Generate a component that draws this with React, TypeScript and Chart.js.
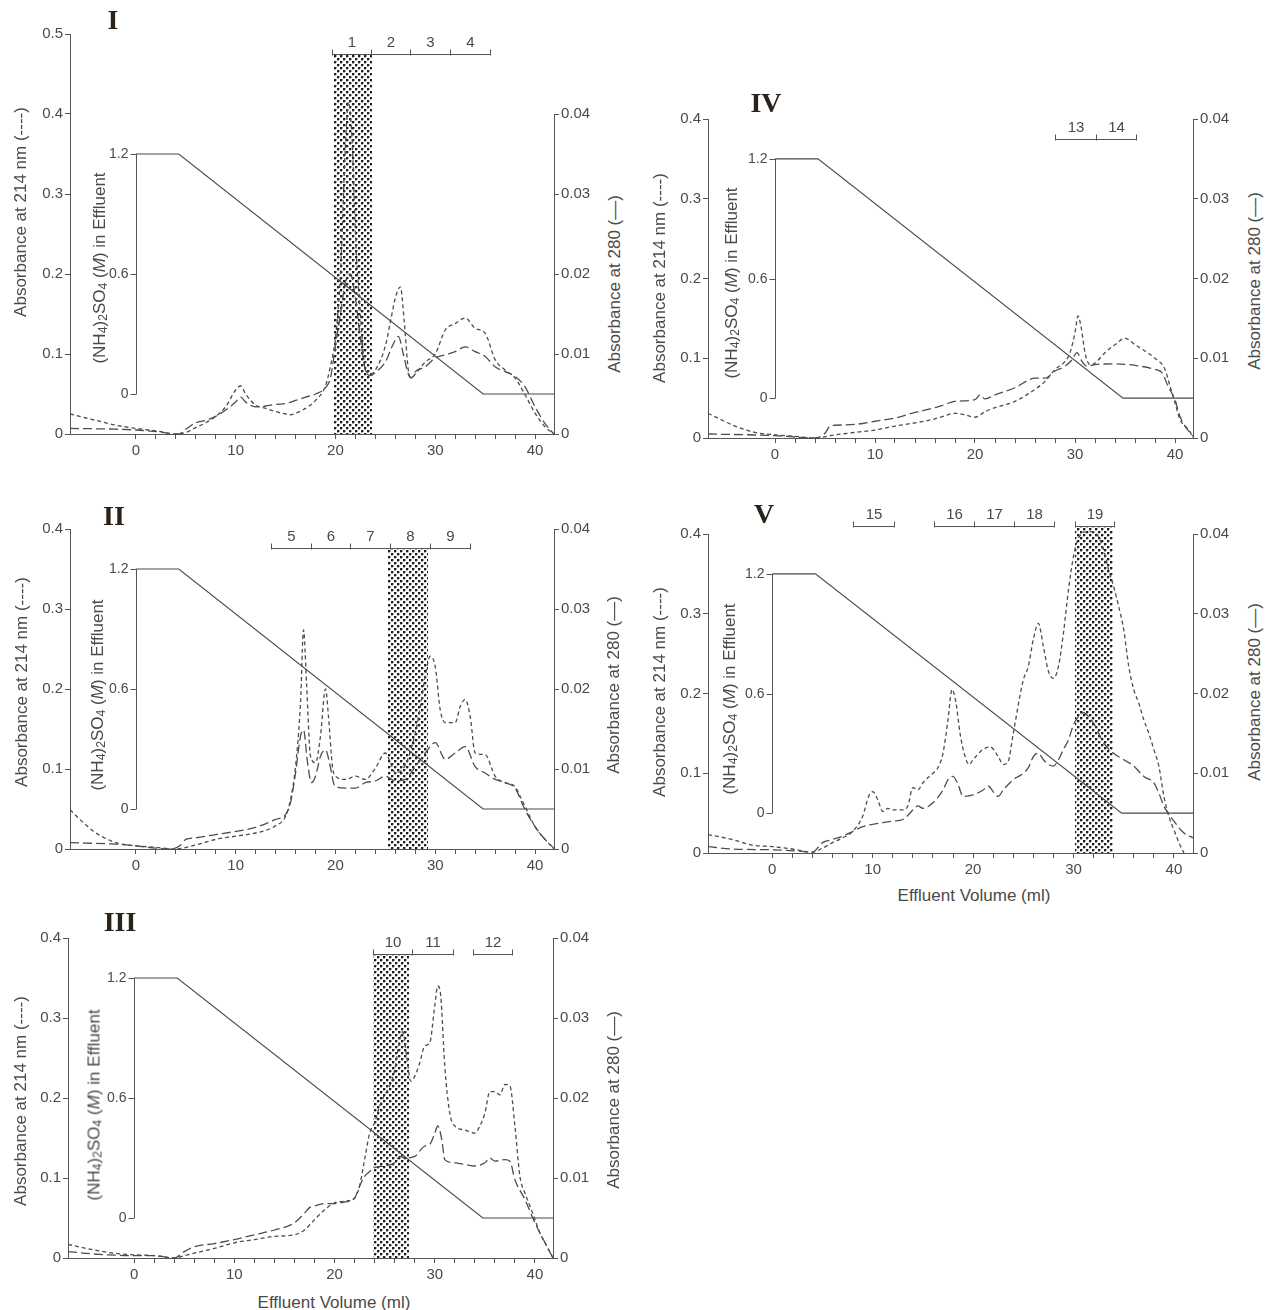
import React, { useEffect, useRef } from 'react';
import { Chart, registerables } from 'chart.js';

Chart.register(...registerables);

type Pt = [number, number];

// ---------- shared ticks / labels ----------
const X_TICKS = [0, 2, 4, 6, 8, 10, 12, 14, 16, 18, 20, 22, 24, 26, 28, 30, 32, 34, 36, 38, 40];
const Y_TICKS_05 = [0, 0.1, 0.2, 0.3, 0.4, 0.5];
const Y_TICKS_04 = [0, 0.1, 0.2, 0.3, 0.4];
const Y280_TICKS = [0, 0.01, 0.02, 0.03, 0.04];
const SALT_TICKS = [0, 0.6, 1.2];
const SALT_TICK_LABELS = ['0', '0.6', '1.2'];
const SALT_GRADIENT: Pt[] = [[0, 1.2], [4.3, 1.2], [34.8, 0], [41.9, 0]];

const TITLE_214 = 'Absorbance at 214 nm (----)';
const TITLE_280 = 'Absorbance at 280 (\u2013\u2013)';
const TITLE_X = 'Effluent Volume (ml)';

// ---------- Panel I ----------
const I_A214: Pt[] = [[-6.6,0.025],[-5,0.02],[-4,0.017],[-2,0.011],[0,0.007],[2,0.004],[4,0.0],[5,0.002],[6,0.008],[7,0.014],[8,0.022],[9,0.034],[10,0.055],[10.5,0.06],[11,0.05],[12,0.036],[13,0.032],[14,0.028],[15,0.025],[15.5,0.024],[16,0.026],[17,0.032],[18,0.042],[19,0.06],[19.5,0.085],[20,0.12],[20.5,0.2],[21,0.36],[21.3,0.415],[21.7,0.36],[22,0.25],[22.5,0.15],[23,0.08],[23.5,0.075],[24,0.08],[25,0.11],[25.5,0.14],[26,0.17],[26.5,0.184],[26.9,0.14],[27.3,0.08],[27.6,0.07],[28,0.075],[29,0.09],[30,0.1],[31,0.13],[32,0.138],[33,0.145],[34,0.132],[35,0.126],[36,0.093],[37,0.08],[38,0.07],[39,0.049],[40,0.026],[41,0.009],[41.9,0]];
const I_A280: Pt[] = [[-6.6,0.0007],[-2,0.0006],[0,0.0005],[2,0.0003],[4.3,0],[5,0.0006],[6,0.0014],[7,0.0017],[8,0.0022],[9,0.003],[10,0.004],[10.5,0.0046],[11,0.004],[12,0.0034],[13,0.0035],[14,0.0037],[15,0.0038],[16,0.0042],[17,0.0046],[18,0.005],[19,0.0058],[19.5,0.007],[20,0.011],[20.5,0.015],[21,0.019],[21.5,0.02],[22,0.017],[22.5,0.012],[23,0.008],[23.5,0.0073],[24,0.0077],[25,0.009],[25.7,0.011],[26.3,0.0122],[26.8,0.01],[27.3,0.0075],[27.6,0.007],[28,0.0078],[29,0.0084],[30,0.0095],[31,0.0099],[32,0.0103],[33,0.0109],[34,0.0103],[35,0.0097],[36,0.0084],[37,0.0078],[38,0.0072],[39,0.0059],[40,0.0034],[41,0.0013],[41.9,0]];
const I_EDGES = [19.7, 23.6, 27.5, 31.5, 35.5];
const I_LABELS = ['1', '2', '3', '4'];
const I_SHADE: Pt = [19.9, 23.7];

// ---------- Panel II ----------
const II_A214: Pt[] = [[-6.6,0.049],[-5,0.03],[-4,0.02],[-2,0.008],[0,0.004],[2,0.002],[4,0],[6,0.005],[8,0.012],[10,0.016],[12,0.02],[14,0.029],[15,0.041],[15.5,0.062],[16,0.103],[16.5,0.183],[16.8,0.274],[17.1,0.208],[17.5,0.116],[18,0.108],[18.5,0.141],[19,0.2],[19.3,0.166],[19.7,0.103],[20,0.091],[21,0.087],[22,0.091],[23,0.087],[24,0.101],[25,0.12],[25.5,0.108],[26,0.095],[27,0.105],[28,0.145],[28.5,0.178],[29,0.216],[29.5,0.241],[30,0.228],[30.5,0.174],[31,0.158],[32,0.158],[32.5,0.178],[33,0.187],[33.5,0.166],[34,0.12],[35,0.118],[36,0.091],[37,0.083],[38,0.078],[38.5,0.066],[39,0.053],[40,0.028],[41,0.012],[41.9,0]];
const II_A280: Pt[] = [[-6.6,0.0008],[-2,0.0006],[0,0.0004],[2,0.0001],[3.5,0],[4.5,0.0005],[5,0.0012],[6,0.0014],[8,0.0018],[10,0.0022],[12,0.0027],[14,0.0037],[15,0.0043],[15.5,0.0058],[16,0.0095],[16.5,0.0141],[16.8,0.0149],[17.2,0.0108],[17.6,0.0083],[18,0.0091],[18.5,0.0116],[19,0.0124],[19.4,0.0108],[19.8,0.0083],[20,0.0078],[21,0.0076],[22,0.0076],[23,0.0083],[24,0.0085],[25,0.0091],[26,0.0085],[27,0.0087],[28,0.0103],[29,0.012],[30,0.0133],[31,0.0112],[32,0.012],[33,0.0128],[34,0.0103],[35,0.0095],[36,0.0087],[37,0.0083],[38,0.0076],[39,0.0049],[40,0.0028],[41,0.0012],[41.9,0.0001]];
const II_EDGES = [13.5, 17.5, 21.5, 25.5, 29.45, 33.5];
const II_LABELS = ['5', '6', '7', '8', '9'];
const II_SHADE: Pt = [25.3, 29.3];

// ---------- Panel III ----------
const III_A214: Pt[] = [[-6.6,0.017],[-4,0.01],[-2,0.006],[0,0.004],[2,0.003],[4,0],[5,0.003],[6,0.006],[8,0.012],[10,0.019],[12,0.023],[14,0.027],[16,0.029],[17,0.035],[18,0.048],[19,0.06],[20,0.069],[21,0.071],[22,0.075],[22.5,0.09],[23,0.123],[23.5,0.156],[24,0.169],[24.5,0.19],[25,0.204],[25.5,0.215],[26,0.235],[26.5,0.273],[26.8,0.283],[27.2,0.252],[27.6,0.221],[28,0.227],[28.5,0.244],[29,0.265],[29.5,0.269],[30,0.315],[30.3,0.34],[30.6,0.327],[31,0.24],[31.5,0.181],[32,0.165],[33,0.16],[33.5,0.158],[34,0.156],[34.5,0.165],[35,0.181],[35.5,0.208],[36,0.208],[36.5,0.204],[37,0.217],[37.5,0.215],[38,0.165],[38.5,0.102],[39,0.081],[39.5,0.065],[40,0.048],[40.5,0.031],[41,0.019],[41.8,0]];
const III_A280: Pt[] = [[-6.6,0.0008],[-4,0.0005],[0,0.0003],[2,0.0003],[4,0],[5,0.0008],[6,0.0014],[8,0.0018],[10,0.0023],[12,0.0029],[14,0.0035],[16,0.0044],[17,0.0056],[17.5,0.0063],[18,0.0065],[19,0.0068],[20,0.0068],[21,0.007],[22,0.0075],[22.5,0.009],[23,0.0102],[23.5,0.0108],[24,0.0113],[25,0.0115],[26,0.0119],[26.5,0.0127],[27,0.0125],[28,0.0127],[29,0.014],[29.5,0.0142],[30,0.0156],[30.3,0.0165],[30.7,0.0148],[31,0.0123],[32,0.0119],[33,0.0117],[34,0.0115],[35,0.0119],[35.5,0.0125],[36,0.0121],[37,0.0123],[37.5,0.0121],[38,0.0098],[39,0.0073],[40,0.0044],[41,0.0019],[41.8,0]];
const III_EDGES_A = [23.85, 27.7, 31.8];
const III_LABELS_A = ['10', '11'];
const III_EDGES_B = [33.8, 37.7];
const III_LABELS_B = ['12'];
const III_SHADE: Pt = [23.85, 27.4];

// ---------- Panel IV ----------
const IV_A214: Pt[] = [[-6.7,0.031],[-4,0.015],[-2,0.007],[0,0.004],[2,0.002],[4,0],[6,0.004],[8,0.007],[10,0.01],[12,0.015],[14,0.019],[16,0.024],[17,0.028],[18,0.031],[19,0.029],[20,0.026],[21,0.033],[22,0.038],[24,0.046],[26,0.061],[27,0.071],[28,0.086],[29,0.096],[29.5,0.107],[30,0.132],[30.3,0.153],[30.6,0.14],[31,0.107],[31.5,0.092],[32,0.094],[33,0.107],[34,0.117],[35,0.125],[36,0.117],[37,0.109],[38,0.1],[39,0.086],[39.5,0.065],[40,0.044],[40.5,0.023],[41,0.015],[41.5,0.008],[41.8,0]];
const IV_A280: Pt[] = [[-6.7,0.0005],[0,0.0003],[4,0],[5,0.0006],[5.5,0.0015],[6,0.0016],[8,0.0017],[10,0.0021],[12,0.0025],[14,0.0032],[16,0.0038],[17,0.0042],[18,0.0046],[20,0.0048],[20.5,0.0054],[21,0.0049],[22,0.0054],[24,0.0063],[26,0.0075],[27,0.0075],[28,0.0084],[29,0.009],[29.7,0.0098],[30.2,0.0107],[30.7,0.0096],[31.2,0.009],[32,0.0092],[34,0.0093],[36,0.0091],[38,0.0086],[38.7,0.0082],[39.3,0.0065],[40,0.0048],[40.5,0.0027],[41,0.0015],[41.8,0.0002]];
const IV_EDGES = [28.0, 32.1, 36.1];
const IV_LABELS = ['13', '14'];

// ---------- Panel V ----------
const V_A214: Pt[] = [[-6.4,0.023],[-4,0.017],[-2,0.01],[0,0.008],[2,0.005],[4,0.001],[5,0.006],[6,0.013],[7,0.019],[8,0.027],[9,0.046],[9.6,0.071],[10,0.077],[10.5,0.067],[11,0.052],[11.5,0.056],[12,0.054],[13,0.054],[13.5,0.059],[14,0.082],[14.5,0.079],[15,0.088],[16,0.1],[16.5,0.107],[17,0.125],[17.5,0.167],[17.9,0.205],[18.3,0.188],[18.7,0.15],[19.2,0.121],[19.6,0.111],[20,0.117],[21,0.13],[21.7,0.133],[22.5,0.121],[23,0.111],[23.5,0.115],[24,0.15],[25,0.217],[25.5,0.234],[26,0.268],[26.5,0.288],[27,0.259],[27.5,0.228],[28,0.219],[28.5,0.234],[29,0.276],[29.5,0.33],[30,0.372],[30.5,0.395],[31.5,0.403],[32.3,0.4],[33,0.38],[33.5,0.355],[34,0.334],[34.5,0.309],[35,0.28],[35.5,0.234],[36,0.205],[36.5,0.188],[37,0.167],[37.5,0.15],[38,0.13],[38.5,0.109],[39,0.071],[39.5,0.046],[40,0.029],[40.5,0.013],[41,0]];
const V_A280: Pt[] = [[-6.4,0.0008],[-4,0.0005],[0,0.0004],[3,0.0002],[4,0.0001],[5,0.0013],[6,0.0017],[7,0.0021],[8,0.0027],[9,0.0033],[10,0.0036],[11,0.0038],[12,0.004],[13,0.0042],[13.5,0.0047],[14,0.0054],[14.5,0.0059],[15,0.0056],[16,0.0063],[17,0.0079],[17.5,0.0092],[18,0.0096],[18.5,0.0086],[19,0.0071],[20,0.0073],[21,0.0079],[21.5,0.0084],[22,0.0077],[22.5,0.0071],[23,0.0079],[24,0.0092],[25,0.01],[25.5,0.0107],[26,0.0121],[26.5,0.0125],[27,0.0117],[27.5,0.0111],[28,0.0109],[28.5,0.0117],[29,0.013],[29.5,0.0142],[30,0.0161],[30.5,0.0171],[31,0.0176],[31.5,0.0171],[32,0.0163],[33,0.0138],[34,0.0125],[35,0.0117],[36,0.0109],[37,0.0096],[38,0.0088],[38.5,0.0075],[39,0.0059],[40,0.004],[41,0.0025],[41.9,0.0019]];
const V_EDGES_A = [8.0, 12.15];
const V_LABELS_A = ['15'];
const V_EDGES_B = [16.06, 20.1, 24.1, 28.1];
const V_LABELS_B = ['16', '17', '18'];
const V_EDGES_C = [30.1, 34.0];
const V_LABELS_C = ['19'];
const V_SHADE: Pt = [30.15, 33.9];

// ---------- styling / layout ----------
const FONT = "'Liberation Sans', Arial, Helvetica, sans-serif";
const INK = '#555';
const TEXT = '#4a4a4a';
const PAD_L = 60, PAD_R = 50, PAD_T = 45, PAD_B = 30;

interface Bracket { edges: number[]; labels: string[] }
interface PanelDef {
  key: string;
  numeral: string; numeralPos: [number, number];
  area: { l: number; r: number; t: number; b: number };
  xMin: number; xMax: number; yMax: number;
  a214: Pt[]; a280: Pt[];
  brackets: Bracket[]; bracketY: number; shade: Pt | null;
  leftTitle: [number, number]; saltTitle: [number, number]; rightTitle: [number, number];
  xTitle?: [number, number];
}

const PANELS: PanelDef[] = [
  { key: 'I', numeral: 'I', numeralPos: [113, 20], area: { l: 70, r: 554, t: 34, b: 434 }, xMin: -6.6, xMax: 41.9, yMax: 0.5,
    a214: I_A214, a280: I_A280, brackets: [{ edges: I_EDGES, labels: I_LABELS }], bracketY: 0.475, shade: I_SHADE,
    leftTitle: [20, 212], saltTitle: [99, 268], rightTitle: [614, 284] },
  { key: 'II', numeral: 'II', numeralPos: [114, 516], area: { l: 70, r: 554, t: 529, b: 849 }, xMin: -6.6, xMax: 41.9, yMax: 0.4,
    a214: II_A214, a280: II_A280, brackets: [{ edges: II_EDGES, labels: II_LABELS }], bracketY: 0.376, shade: II_SHADE,
    leftTitle: [21, 682], saltTitle: [97, 695], rightTitle: [613, 685] },
  { key: 'III', numeral: 'III', numeralPos: [120, 922], area: { l: 68, r: 553, t: 938, b: 1258 }, xMin: -6.6, xMax: 41.8, yMax: 0.4,
    a214: III_A214, a280: III_A280, brackets: [{ edges: III_EDGES_A, labels: III_LABELS_A }, { edges: III_EDGES_B, labels: III_LABELS_B }], bracketY: 0.38, shade: III_SHADE,
    leftTitle: [20, 1101], saltTitle: [94, 1105], rightTitle: [613, 1100], xTitle: [334, 1302] },
  { key: 'IV', numeral: 'IV', numeralPos: [766, 103], area: { l: 708, r: 1193, t: 119, b: 438 }, xMin: -6.7, xMax: 41.8, yMax: 0.4,
    a214: IV_A214, a280: IV_A280, brackets: [{ edges: IV_EDGES, labels: IV_LABELS }], bracketY: 0.375, shade: null,
    leftTitle: [659, 278], saltTitle: [731, 283], rightTitle: [1254, 281] },
  { key: 'V', numeral: 'V', numeralPos: [764, 514], area: { l: 708, r: 1193, t: 534, b: 853 }, xMin: -6.4, xMax: 41.9, yMax: 0.4,
    a214: V_A214, a280: V_A280, brackets: [{ edges: V_EDGES_A, labels: V_LABELS_A }, { edges: V_EDGES_B, labels: V_LABELS_B }, { edges: V_EDGES_C, labels: V_LABELS_C }], bracketY: 0.41, shade: V_SHADE,
    leftTitle: [659, 692], saltTitle: [729, 699], rightTitle: [1254, 692], xTitle: [974, 895] },
];

const toXY = (pts: Pt[]) => pts.map(([x, y]) => ({ x, y }));
const crisp = (v: number) => Math.round(v) + 0.5;

function makeDecor(p: PanelDef) {
  let pattern: CanvasPattern | null = null;
  return {
    id: 'decor' + p.key,
    beforeDatasetsDraw(chart: any) {
      if (!p.shade) return;
      const ctx: CanvasRenderingContext2D = chart.ctx;
      const xs = chart.scales.x, ys = chart.scales.y;
      if (!pattern) {
        const c = document.createElement('canvas');
        c.width = 6; c.height = 6;
        const g = c.getContext('2d')!;
        g.fillStyle = '#fff'; g.fillRect(0, 0, 6, 6);
        g.fillStyle = '#1e1e1e';
        g.fillRect(0, 0, 2, 2);
        g.fillRect(3, 3, 2, 2);
        g.fillStyle = 'rgba(30,30,30,0.35)';
        g.fillRect(2, 0, 1, 2); g.fillRect(0, 2, 2, 1);
        g.fillRect(5, 3, 1, 2); g.fillRect(3, 5, 2, 1);
        pattern = ctx.createPattern(c, 'repeat');
      }
      const x0 = Math.round(xs.getPixelForValue(p.shade[0]));
      const x1 = Math.round(xs.getPixelForValue(p.shade[1]));
      const yT = Math.round(ys.getPixelForValue(p.bracketY));
      const yB = Math.round(ys.getPixelForValue(0));
      ctx.save();
      ctx.fillStyle = pattern as any;
      ctx.fillRect(x0, yT, x1 - x0, yB - yT);
      ctx.restore();
    },
    afterDraw(chart: any) {
      const ctx: CanvasRenderingContext2D = chart.ctx;
      const xs = chart.scales.x, ys = chart.scales.y, yr = chart.scales.y280, ss = chart.scales.salt;
      const line = (x1: number, y1: number, x2: number, y2: number) => {
        ctx.beginPath(); ctx.moveTo(x1, y1); ctx.lineTo(x2, y2); ctx.stroke();
      };
      ctx.save();
      ctx.strokeStyle = INK; ctx.lineWidth = 1; ctx.fillStyle = TEXT;
      // right (280 nm) axis line, only up to the last tick
      const rx = crisp(chart.chartArea.right);
      line(rx, yr.getPixelForValue(0), rx, yr.getPixelForValue(Y280_TICKS[Y280_TICKS.length - 1]));
      // inner (NH4)2SO4 axis at x = 0
      const sx = crisp(xs.getPixelForValue(0));
      line(sx, ss.getPixelForValue(SALT_TICKS[0]), sx, ss.getPixelForValue(SALT_TICKS[SALT_TICKS.length - 1]));
      ctx.font = `14px ${FONT}`;
      ctx.textAlign = 'right'; ctx.textBaseline = 'middle';
      SALT_TICKS.forEach((t, i) => {
        const py = crisp(ss.getPixelForValue(t));
        line(sx - 6, py, sx, py);
        ctx.fillText(SALT_TICK_LABELS[i], sx - 8, py);
      });
      // fraction brackets
      ctx.font = `15px ${FONT}`;
      const by = crisp(ys.getPixelForValue(p.bracketY));
      ctx.textAlign = 'center'; ctx.textBaseline = 'alphabetic';
      p.brackets.forEach((b) => {
        const px = b.edges.map((e) => crisp(xs.getPixelForValue(e)));
        line(px[0], by, px[px.length - 1], by);
        px.forEach((x) => line(x, by - 5, x, by + 1));
        b.labels.forEach((lab, i) => ctx.fillText(lab, (px[i] + px[i + 1]) / 2, by - 8));
      });
      ctx.restore();
    },
  };
}

function PanelChart({ p }: { p: PanelDef }) {
  const ref = useRef<HTMLCanvasElement>(null);
  const w = p.area.r - p.area.l + PAD_L + PAD_R;
  const h = p.area.b - p.area.t + PAD_T + PAD_B;
  useEffect(() => {
    const canvas = ref.current;
    if (!canvas) return;
    const yTicks = p.yMax > 0.45 ? Y_TICKS_05 : Y_TICKS_04;
    const tickFont = { family: FONT, size: 15 };
    const chart = new Chart(canvas, {
      type: 'line',
      data: {
        datasets: [
          { label: 'salt', data: toXY(SALT_GRADIENT) as any, yAxisID: 'salt', borderColor: '#4a4a4a', borderWidth: 1.2, pointRadius: 0, tension: 0 },
          { label: 'A214', data: toXY(p.a214) as any, yAxisID: 'y', borderColor: '#4d4d4d', borderWidth: 1.3, borderDash: [4, 3], pointRadius: 0, cubicInterpolationMode: 'monotone', clip: false as any },
          { label: 'A280', data: toXY(p.a280) as any, yAxisID: 'y280', borderColor: '#4d4d4d', borderWidth: 1.3, borderDash: [9, 4], pointRadius: 0, cubicInterpolationMode: 'monotone', clip: false as any },
        ],
      },
      options: {
        animation: false,
        responsive: false,
        devicePixelRatio: 1,
        parsing: false as any,
        layout: { padding: { top: PAD_T, left: 0, right: 0, bottom: 0 } },
        plugins: { legend: { display: false }, tooltip: { enabled: false }, title: { display: false } },
        events: [],
        scales: {
          x: {
            type: 'linear', min: p.xMin, max: p.xMax,
            afterBuildTicks: (s: any) => { s.ticks = X_TICKS.map((v) => ({ value: v })); },
            afterFit: (s: any) => { s.height = PAD_B; },
            ticks: { autoSkip: false, maxRotation: 0, font: tickFont, color: TEXT, padding: 3,
              callback: (v: any) => (Number(v) % 10 === 0 ? String(v) : '') },
            grid: { drawOnChartArea: false, drawTicks: true, tickLength: 5, color: INK },
            border: { display: true, color: INK, width: 1 },
          },
          y: {
            type: 'linear', position: 'left', min: 0, max: p.yMax,
            afterBuildTicks: (s: any) => { s.ticks = yTicks.map((v) => ({ value: v })); },
            afterFit: (s: any) => { s.width = PAD_L; },
            ticks: { font: tickFont, color: TEXT, padding: 2,
              callback: (v: any) => (Number(v) === 0 ? '0' : Number(v).toFixed(1)) },
            grid: { drawOnChartArea: false, drawTicks: true, tickLength: 5, color: INK },
            border: { display: true, color: INK, width: 1 },
          },
          y280: {
            type: 'linear', position: 'right', min: 0, max: p.yMax / 10,
            afterBuildTicks: (s: any) => { s.ticks = Y280_TICKS.map((v) => ({ value: v })); },
            afterFit: (s: any) => { s.width = PAD_R; },
            ticks: { font: tickFont, color: TEXT, padding: 2,
              callback: (v: any) => (Number(v) === 0 ? '0' : Number(v).toFixed(2)) },
            grid: { drawOnChartArea: false, drawTicks: true, tickLength: 5, color: INK },
            border: { display: false },
          },
          salt: {
            type: 'linear', display: false, position: 'left',
            min: -0.2, max: (p.yMax - 0.05) * 4,
          },
        },
      } as any,
      plugins: [makeDecor(p) as any],
    });
    return () => chart.destroy();
  }, [p]);
  return (
    <canvas ref={ref} width={w} height={h}
      style={{ position: 'absolute', left: p.area.l - PAD_L, top: p.area.t - PAD_T, width: w, height: h }} />
  );
}

const rotStyle = (c: [number, number]): React.CSSProperties => ({
  position: 'absolute', left: c[0], top: c[1], transform: 'translate(-50%, -50%) rotate(-90deg)',
  whiteSpace: 'nowrap', fontSize: 17, lineHeight: 1, color: TEXT, fontFamily: FONT,
});
const subStyle: React.CSSProperties = { fontSize: '0.72em', verticalAlign: '-0.18em', lineHeight: 0 };

export default function App() {
  return (
    <div style={{ position: 'absolute', left: 0, top: 0, width: 1268, height: 1310, background: '#fff', overflow: 'hidden' }}>
      {PANELS.map((p) => <PanelChart key={p.key} p={p} />)}
      {PANELS.map((p) => (
        <React.Fragment key={'t' + p.key}>
          <div style={{ position: 'absolute', left: p.numeralPos[0], top: p.numeralPos[1], transform: 'translate(-50%, -50%)',
            fontFamily: "'Liberation Serif', 'Times New Roman', serif", fontWeight: 700, fontSize: 28, lineHeight: 1, color: '#2a231c' }}>
            {p.numeral}
          </div>
          <div style={rotStyle(p.leftTitle)}>{TITLE_214}</div>
          <div style={rotStyle(p.rightTitle)}>{TITLE_280}</div>
          <div style={rotStyle(p.saltTitle)}>
            (NH<span style={subStyle}>4</span>)<span style={subStyle}>2</span>SO<span style={subStyle}>4</span> (<i>M</i>) in Effluent
          </div>
          {p.xTitle && (
            <div style={{ position: 'absolute', left: p.xTitle[0], top: p.xTitle[1], transform: 'translate(-50%, -50%)',
              whiteSpace: 'nowrap', fontSize: 17, lineHeight: 1, color: TEXT, fontFamily: FONT }}>
              {TITLE_X}
            </div>
          )}
        </React.Fragment>
      ))}
    </div>
  );
}
